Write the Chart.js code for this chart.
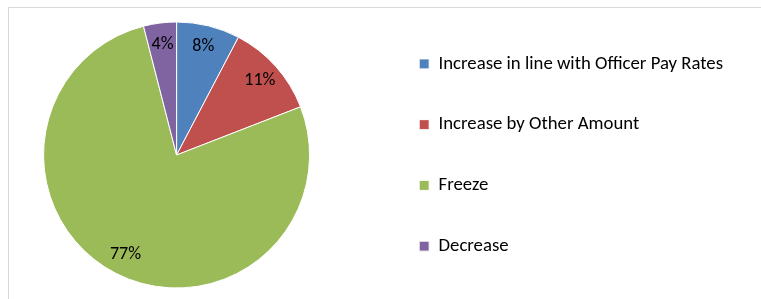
<!DOCTYPE html>
<html>
<head>
<meta charset="utf-8">
<script src="https://cdn.jsdelivr.net/npm/chart.js@4"></script>
<style>
    body { margin: 0; background: #fff; }
    #wrap { position: relative; width: 761px; height: 299px; overflow: hidden; }
    #frame { position: absolute; left: 8px; top: 7px; width: 800px; height: 400px; border: 1px solid #d9d9d9; }
    #piechart { position: absolute; left: -24px; top: 0; }
</style>
</head>
<body>
<div id="wrap">
    <div id="frame"></div>
    <canvas id="piechart" width="785" height="299"></canvas>
</div>
<script>
// dados
const categorias = ['Increase in line with Officer Pay Rates', 'Increase by Other Amount', 'Freeze', 'Decrease'];
const valores = [7.7, 11.4, 76.9, 4.0];
const cores = ['#4f81bd', '#c0504d', '#9bbb59', '#8064a2'];

const fonte = "Carlito, Lato, sans-serif";

// escreve as percentagens dentro de cada fatia
const rotulosPlugin = {
    id: 'rotulos',
    afterDatasetsDraw(chart) {
        const ctx = chart.ctx;
        const meta = chart.getDatasetMeta(0);
        const total = valores.reduce((a, b) => a + b, 0);
        ctx.save();
        ctx.font = '18px ' + fonte;
        ctx.fillStyle = '#000';
        ctx.textAlign = 'center';
        ctx.textBaseline = 'middle';
        meta.data.forEach((arc, i) => {
            const p = arc.getProps(['x', 'y', 'startAngle', 'endAngle', 'outerRadius'], true);
            const meio = (p.startAngle + p.endAngle) / 2;
            const r = p.outerRadius * 0.84;
            const texto = Math.round(valores[i] / total * 100) + '%';
            ctx.fillText(texto, p.x + Math.cos(meio) * r, p.y + Math.sin(meio) * r);
        });
        ctx.restore();
    }
};

const ctx = document.getElementById('piechart').getContext('2d');
const piechart = new Chart(ctx, {
    type: 'pie',
    data: {
        labels: categorias,
        datasets: [{
            data: valores,
            backgroundColor: cores,
            borderColor: '#ffffff',
            borderWidth: 1,
            radius: 133
        }]
    },
    options: {
        responsive: false,
        animation: false,
        layout: {
            padding: { left: 0, top: 11, right: 28, bottom: 0 }
        },
        plugins: {
            tooltip: { enabled: false },
            legend: {
                position: 'right',
                labels: {
                    boxWidth: 10,
                    boxHeight: 10,
                    padding: 42,
                    color: '#000',
                    font: { family: fonte, size: 18.75 }
                }
            }
        }
    },
    plugins: [rotulosPlugin]
});
</script>
</body>
</html>
